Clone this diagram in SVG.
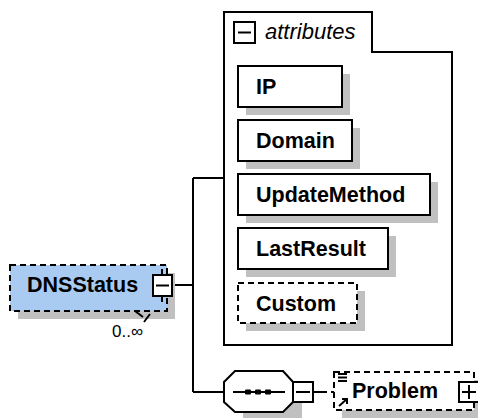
<svg xmlns="http://www.w3.org/2000/svg" width="478" height="418" viewBox="0 0 478 418">
<style>
.box{fill:#fff;stroke:#000;stroke-width:2}
.dbox{fill:#fff;stroke:#000;stroke-width:2;stroke-dasharray:6 4}
.sh{fill:#c0c0c0}
.ln{fill:none;stroke:#000;stroke-width:2}
.lbl{font-family:"Liberation Sans",Arial,sans-serif;font-weight:bold;font-size:21.5px;fill:#000}
.pm{fill:#fff;stroke:#000;stroke-width:2}
</style>
<rect width="478" height="418" fill="#fff"/>
<g id="connectors">
<path class="ln" d="M172,285 H193 M193,178 V392 M193,178 H224 M193,392 H224"/>
<path class="ln" d="M313,392 H322"/>
<path class="ln" d="M322,392 H334" stroke-dasharray="5 4"/>
</g>
<g id="DNSStatus">
<rect class="sh" x="18" y="273" width="157" height="46"/>
<rect x="10" y="265" width="157" height="46" fill="#a9cbf2" stroke="#000" stroke-width="2" stroke-dasharray="6 4"/>
<path class="ln" d="M135,311 L143,317 M144,322 L150,314" stroke-width="1.5"/>
<text class="lbl" x="27" y="292">DNSStatus</text>
<path class="ln" d="M162,269 V275 M162,296 V302"/>
<rect class="pm" x="153" y="275" width="19" height="21"/>
<path class="ln" d="M156,285.5 H169"/>
<text x="112" y="337" font-family="Liberation Sans,Arial,sans-serif" font-size="17" fill="#000">0..∞</text>
</g>
<g id="attributes">
<path fill="#fff" stroke="#000" stroke-width="2" d="M224,12 H372 V52 H452 V345 H224 Z"/>
<rect class="pm" x="234" y="22" width="21" height="21"/>
<path class="ln" d="M238,32.5 H251"/>
<text x="265" y="39" font-family="Liberation Sans,Arial,sans-serif" font-style="italic" font-size="22" fill="#000">attributes</text>
</g>
<g id="IP">
<rect class="sh" x="246" y="74" width="104" height="41"/>
<rect class="box" x="238" y="66" width="104" height="41"/>
<text class="lbl" x="256" y="94">IP</text>
</g>
<g id="Domain">
<rect class="sh" x="246" y="128" width="114" height="41"/>
<rect class="box" x="238" y="120" width="114" height="41"/>
<text class="lbl" x="256" y="148">Domain</text>
</g>
<g id="UpdateMethod">
<rect class="sh" x="246" y="182" width="192" height="41"/>
<rect class="box" x="238" y="174" width="192" height="41"/>
<text class="lbl" x="256" y="202">UpdateMethod</text>
</g>
<g id="LastResult">
<rect class="sh" x="246" y="236" width="150" height="41"/>
<rect class="box" x="238" y="228" width="150" height="41"/>
<text class="lbl" x="256" y="256">LastResult</text>
</g>
<g id="Custom">
<rect class="sh" x="246" y="291" width="119" height="40"/>
<rect class="dbox" x="238" y="283" width="119" height="40"/>
<text class="lbl" x="256" y="311">Custom</text>
</g>
<g id="sequence">
<path class="sh" d="M243,379 H291 L302,390 V418 H243 Z"/>
<path fill="#fff" stroke="#000" stroke-width="2" d="M235,371 H283 L293,382 V402 L283,412 H235 L224,402 V382 Z"/>
<path class="ln" d="M233,392 H285" stroke-width="1.5"/>
<rect x="245" y="389.5" width="6" height="5" rx="1" fill="#000"/>
<rect x="255" y="389.5" width="6" height="5" rx="1" fill="#000"/>
<rect x="265" y="389.5" width="6" height="5" rx="1" fill="#000"/>
<rect class="pm" x="293" y="382" width="20" height="20"/>
<path class="ln" d="M296,392 H310"/>
</g>
<g id="Problem">
<rect class="sh" x="342" y="380" width="140" height="40"/>
<rect class="dbox" x="334" y="372" width="140" height="38"/>
<path class="ln" d="M338,374 H347 M338,377.5 H347 M338,381 H347" stroke-width="1.5"/>
<path class="ln" d="M339,406 L347,399 M342,399 H347 V404" stroke-width="2"/>
<text class="lbl" x="352" y="398" font-size="22">Problem</text>
<rect class="pm" x="459" y="382" width="20" height="20"/>
<path class="ln" d="M462,392 H476 M469,385 V399"/>
</g>
</svg>
